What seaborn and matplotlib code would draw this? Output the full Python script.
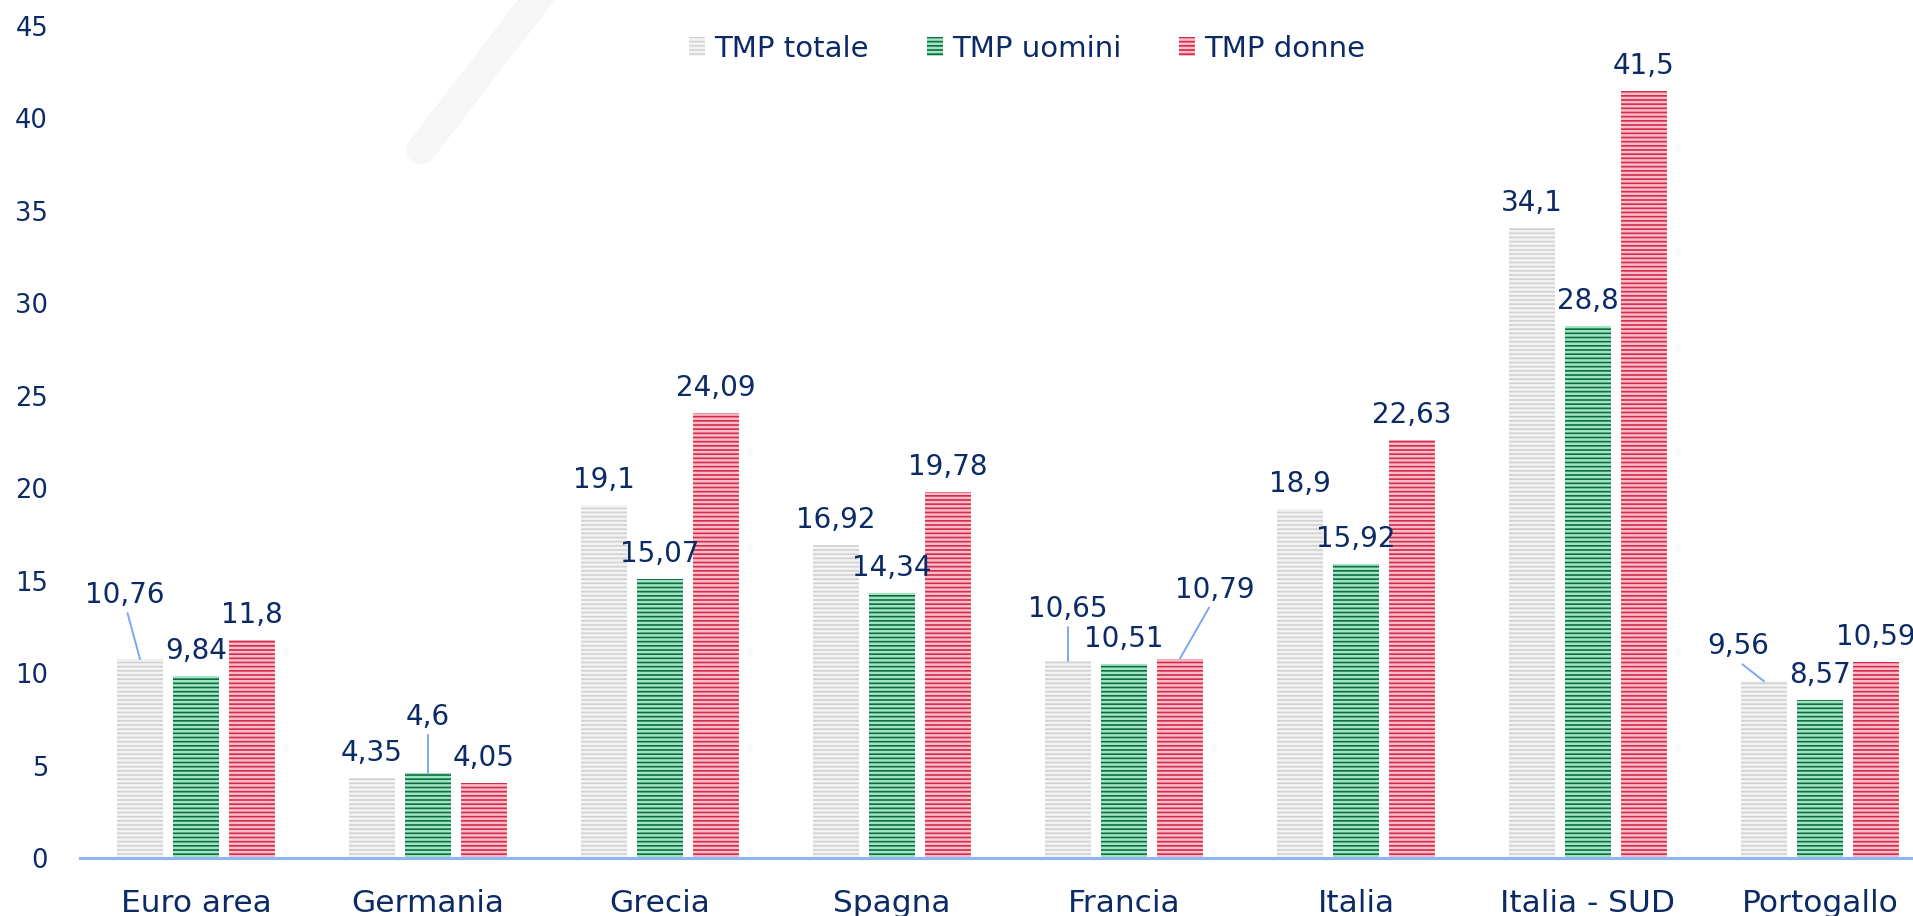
import matplotlib
matplotlib.use('Agg')
import matplotlib.pyplot as plt
from matplotlib.patches import Patch, PathPatch
from matplotlib.path import Path
import pandas as pd
import seaborn as sns

categories = ['Euro area', 'Germania', 'Grecia', 'Spagna', 'Francia',
              'Italia', 'Italia - SUD', 'Portogallo']
series = ['TMP totale', 'TMP uomini', 'TMP donne']
tmp_totale = [10.76, 4.35, 19.1, 16.92, 10.65, 18.9, 34.1, 9.56]
tmp_uomini = [9.84, 4.6, 15.07, 14.34, 10.51, 15.92, 28.8, 8.57]
tmp_donne = [11.8, 4.05, 24.09, 19.78, 10.79, 22.63, 41.5, 10.59]
y_ticks = [0, 5, 10, 15, 20, 25, 30, 35, 40, 45]

NAVY = '#0b2a66'
LEADER = '#7ea6f2'
# face colour, stripe colour
styles = {
    'TMP totale': ('#d2d2d2', '#f3f3f3'),
    'TMP uomini': ('#0f6a45', '#9ee6c0'),
    'TMP donne': ('#d52b4c', '#f6bcc7'),
}

# labels that Excel pushed away from their bar (offset in px), drawn with a leader line
moved = {
    ('Euro area', 'TMP totale'): (-15, 56),
    ('Germania', 'TMP uomini'): (0, 48),
    ('Francia', 'TMP totale'): (0, 44),
    ('Francia', 'TMP donne'): (35, 61),
    ('Portogallo', 'TMP totale'): (-26, 27),
}

df = pd.DataFrame({
    'categoria': categories * 3,
    'serie': [s for s in series for _ in categories],
    'valore': tmp_totale + tmp_uomini + tmp_donne,
})
values = dict(zip(series, [tmp_totale, tmp_uomini, tmp_donne]))

sns.set_style('white')
plt.rcParams['font.family'] = ['DejaVu Sans']
plt.rcParams['hatch.linewidth'] = 1.8

fig = plt.figure(figsize=(19.13, 9.16), dpi=100, facecolor='white')

# faint background logo stroke
W, H = 1913, 916
stroke = Path([(421 / W, 1 - 150 / H), (482 / W, 1 - 70 / H), (548 / W, 1 + 15 / H)],
              [Path.MOVETO, Path.CURVE3, Path.CURVE3])
fig.add_artist(PathPatch(stroke, fill=False, edgecolor='#f6f6f6', lw=21,
                         capstyle='round', transform=fig.transFigure, zorder=0))

ax = fig.add_axes([80 / W, 58 / H, 1856 / W, 832 / H])
ax.patch.set_alpha(0)

sns.barplot(data=df, x='categoria', y='valore', hue='serie', order=categories,
            hue_order=series, palette=[styles[s][0] for s in series],
            saturation=1, width=0.724, gap=0.18, legend=False, ax=ax)

for container, s in zip(ax.containers, series):
    face, stripe = styles[s]
    for bar, cat, val in zip(container, categories, values[s]):
        bar.set_facecolor(face)
        bar.set_edgecolor(stripe)
        bar.set_linewidth(0)
        bar.set_hatch('----')
        x = bar.get_x() + bar.get_width() / 2
        h = bar.get_height()
        dx, dy = moved.get((cat, s), (0, 17))
        if (cat, s) in moved:
            ax.annotate('', xy=(x, h), xytext=(dx * 0.6, (dy - 10) * 0.72),
                        textcoords='offset points', annotation_clip=False,
                        arrowprops=dict(arrowstyle='-', color=LEADER, lw=1.4,
                                        shrinkA=0, shrinkB=0))
        ax.annotate(f'{val:g}'.replace('.', ','), xy=(x, h),
                    xytext=(dx * 0.72, dy * 0.72), textcoords='offset points',
                    ha='center', va='baseline', fontsize=20, color=NAVY,
                    annotation_clip=False)

ax.set_xlim(-0.5, 7.5)
ax.set_ylim(0, 45)
ax.set_yticks(y_ticks)
ax.set_xlabel('')
ax.set_ylabel('')
ax.tick_params(axis='y', length=0, pad=23, labelsize=18.5, labelcolor=NAVY)
ax.tick_params(axis='x', length=0, pad=22, labelsize=22.5, labelcolor=NAVY)
for side in ['left', 'top', 'right']:
    ax.spines[side].set_visible(False)
ax.spines['bottom'].set_color('#8fb4f4')
ax.spines['bottom'].set_linewidth(2.2)

handles = [Patch(facecolor=styles[s][0], edgecolor=styles[s][1], hatch='----',
                 linewidth=0) for s in series]
fig.legend(handles, series, loc='center', bbox_to_anchor=(0.537, 0.9465),
           ncol=3, frameon=False, fontsize=21, handlelength=0.55,
           handleheight=0.65, handletextpad=0.3, columnspacing=2.0,
           labelcolor=NAVY)

fig.savefig('out.png', dpi=100, facecolor='white')
